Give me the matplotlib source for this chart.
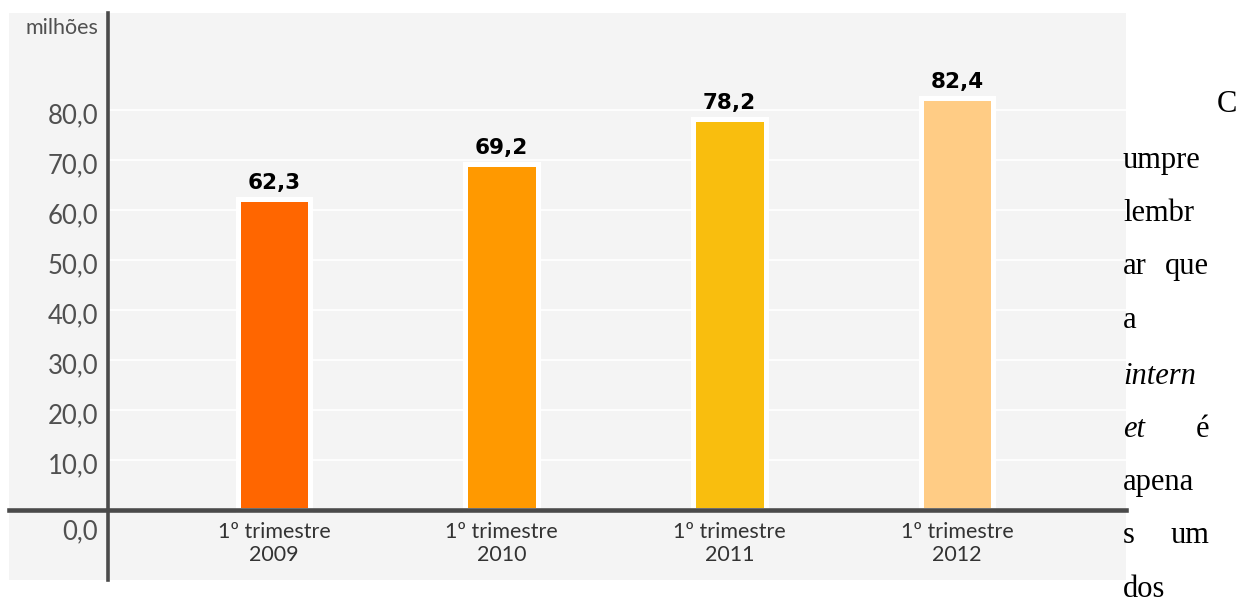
import matplotlib.pyplot as plt
from matplotlib.patches import Rectangle

# dados (milhões)
periodos = ["1º trimestre\n2009", "1º trimestre\n2010", "1º trimestre\n2011", "1º trimestre\n2012"]
valores = [62.3, 69.2, 78.2, 82.4]
rotulos = ["62,3", "69,2", "78,2", "82,4"]
cores = ["#ff6600", "#ff9900", "#f9be0e", "#ffcc85"]
yticks = [10, 20, 30, 40, 50, 60, 70, 80]
ytick_labels = ["10,0", "20,0", "30,0", "40,0", "50,0", "60,0", "70,0", "80,0"]

W, H = 1241, 610
BG = "#f4f4f4"
AXC = "#4a4a4a"

fig = plt.figure(figsize=(W / 100, H / 100), dpi=100)
fig.patch.set_facecolor("white")

# fundo cinza do grafico
fig.patches.append(Rectangle((9 / W, 1 - 580 / H), 1117 / W, 567 / H,
                             transform=fig.transFigure, facecolor=BG,
                             edgecolor="none", zorder=-5))

ax = fig.add_axes([108 / W, 1 - 580 / H, (1126 - 108) / W, 567 / H])
ax.set_facecolor(BG)
ax.set_xlim(-0.729, 3.742)
ax.set_ylim(-14, 99.4)

x = range(len(valores))
ax.bar(x, valores, width=0.32, color=cores, edgecolor="white", linewidth=3.6, zorder=2)

# grade branca
ax.set_yticks(yticks)
ax.set_yticklabels([])
ax.set_xticks([])
ax.tick_params(length=0)
ax.grid(axis="y", color="white", linewidth=1.2, zorder=1)

for s in ["top", "right", "bottom"]:
    ax.spines[s].set_visible(False)
ax.spines["left"].set_color(AXC)
ax.spines["left"].set_linewidth(2.6)
ax.spines["left"].set_zorder(4)

# linha do zero, prolongada para a esquerda
ax.axhline(0, xmin=-99 / 1018, xmax=1, color=AXC, linewidth=3.3,
           clip_on=False, zorder=4)

lab_font = dict(family=["Lato", "DejaVu Sans"], color="#505050")
for v, t in zip(yticks, ytick_labels):
    ax.annotate(t, xy=(0, v), xycoords=("axes fraction", "data"),
                xytext=(-7, -4), textcoords="offset points",
                ha="right", va="center", fontsize=18.5, **lab_font)
ax.annotate("0,0", xy=(0, 0), xycoords=("axes fraction", "data"),
            xytext=(-7, -16), textcoords="offset points",
            ha="right", va="center", fontsize=18.5, **lab_font)
ax.annotate("milhões", xy=(0, 1), xycoords="axes fraction",
            xytext=(-7, -11), textcoords="offset points",
            ha="right", va="center", fontsize=15.5, **lab_font)

for i, (v, r, p) in enumerate(zip(valores, rotulos, periodos)):
    ax.annotate(r, xy=(i, v), xytext=(0, 4), textcoords="offset points",
                ha="center", va="bottom", fontsize=15.5, fontweight="bold",
                family="DejaVu Sans", color="black", zorder=5)
    ax.annotate(p, xy=(i, 0), xytext=(0, -9), textcoords="offset points",
                ha="center", va="top", fontsize=15.5, linespacing=1.15,
                family=["Lato", "DejaVu Sans"], color="#333333")

# texto corrido a direita
serif = ["Liberation Serif", "DejaVu Serif"]
linhas = [
    ("C", None, None, 112),
    ("umpre", None, None, 168),
    ("lembr", None, None, 221),
    ("ar", "que", None, 274),
    ("a", None, None, 328),
    ("intern", None, "italic", 384),
    ("et", "é", "italic", 437),
    ("apena", None, None, 490),
    ("s", "um", None, 543),
    ("dos", None, None, 597),
]
for esq, dir_, estilo, yb in linhas:
    if esq == "C":
        fig.text(1237 / W, 1 - yb / H, esq, ha="right", va="baseline",
                 fontsize=22, family=serif)
        continue
    fig.text(1123 / W, 1 - yb / H, esq, ha="left", va="baseline",
             fontsize=22, family=serif, style=estilo or "normal")
    if dir_:
        fig.text(1209 / W, 1 - yb / H, dir_, ha="right", va="baseline",
                 fontsize=22, family=serif)

fig.savefig("out.png", dpi=100, facecolor="white")
